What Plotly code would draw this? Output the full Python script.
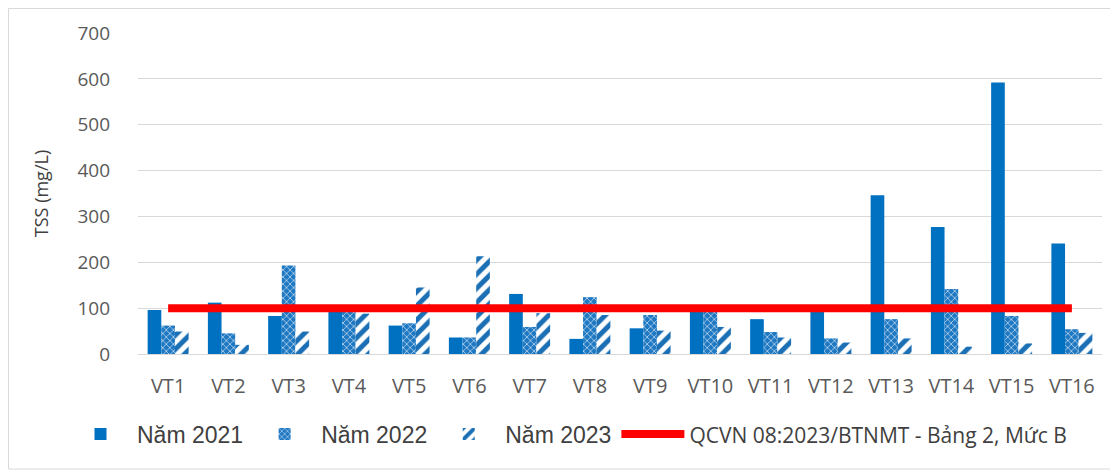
import plotly.graph_objects as go

categories = ["VT1", "VT2", "VT3", "VT4", "VT5", "VT6", "VT7", "VT8",
              "VT9", "VT10", "VT11", "VT12", "VT13", "VT14", "VT15", "VT16"]
nam_2021 = [96, 112, 83, 97, 62, 36, 131, 33, 56, 96, 76, 96, 346, 277, 592, 241]
nam_2022 = [62, 45, 193, 92, 67, 36, 59, 124, 85, 92, 48, 34, 76, 142, 83, 54]
nam_2023 = [49, 20, 49, 88, 145, 213, 89, 85, 51, 59, 36, 25, 34, 16, 23, 46]
qcvn_limit = [100] * 16
y_ticks = [0, 100, 200, 300, 400, 500, 600, 700]

BLUE = "#0070C0"

fig = go.Figure()
fig.add_trace(go.Bar(
    x=categories, y=nam_2021, name="Năm 2021",
    marker=dict(color=BLUE, line=dict(width=0)),
))
fig.add_trace(go.Bar(
    x=categories, y=nam_2022, name="Năm 2022",
    marker=dict(color=BLUE, line=dict(width=0),
                pattern=dict(shape="x", fillmode="overlay", bgcolor="#1f78c2",
                             fgcolor="#cfe4f5", fgopacity=0.85, size=5, solidity=0.3)),
))
fig.add_trace(go.Bar(
    x=categories, y=nam_2023, name="Năm 2023",
    marker=dict(color="white", line=dict(width=0),
                pattern=dict(shape="/", fillmode="overlay", bgcolor="white",
                             fgcolor="#1a6fb5", fgopacity=1, size=10, solidity=0.5)),
))
fig.add_trace(go.Scatter(
    x=categories, y=qcvn_limit, mode="lines",
    name='<span style="font-family:Open Sans;font-size:21px">QCVN 08:2023/BTNMT - Bảng 2, Mức B</span>',
    line=dict(color="#FF0000", width=8),
))

# page has an 8px body margin; figure coordinates = page px - 8
FW, FH = 1110, 462
L, T, W, H = 130, 25, 964, 321
B = FH - T - H


def px_x(p):
    return (p - L) / W


def px_y(p):
    return (T + H - p) / H


fig.add_shape(type="rect", xref="paper", yref="paper",
              x0=px_x(0.5), x1=px_x(FW - 1), y0=px_y(0.5), y1=px_y(FH - 1),
              line=dict(color="#d9d9d9", width=1), fillcolor="rgba(0,0,0,0)",
              layer="below")

fig.update_layout(
    width=FW, height=FH,
    margin=dict(l=L, r=FW - L - W, t=T, b=B, autoexpand=False),
    paper_bgcolor="white", plot_bgcolor="white",
    barmode="group", bargap=0.32, bargroupgap=0,
    font=dict(family="Open Sans, Liberation Sans, sans-serif", color="#595959", size=18),
    showlegend=True,
    legend=dict(orientation="h", x=px_x(56), xanchor="left", y=px_y(426), yanchor="middle",
                font=dict(family="Liberation Sans, Arial, sans-serif", size=23, color="#404040"),
                itemwidth=63, tracegroupgap=0, traceorder="normal"),
)
fig.update_xaxes(
    showgrid=False, showline=True, linecolor="#d9d9d9", linewidth=1,
    ticks="", tickfont=dict(size=20, color="#595959"),
    ticklabelstandoff=14,
)
fig.update_yaxes(
    range=[0, 700], tickvals=y_ticks, showgrid=True, gridcolor="#d9d9d9",
    gridwidth=1, zeroline=False, showline=False, ticks="",
    tickfont=dict(size=19, color="#595959"), ticklabelstandoff=27,
    title=dict(text="TSS (mg/L)", font=dict(size=18, color="#404040"), standoff=24),
)

fig.write_html("out.html")
